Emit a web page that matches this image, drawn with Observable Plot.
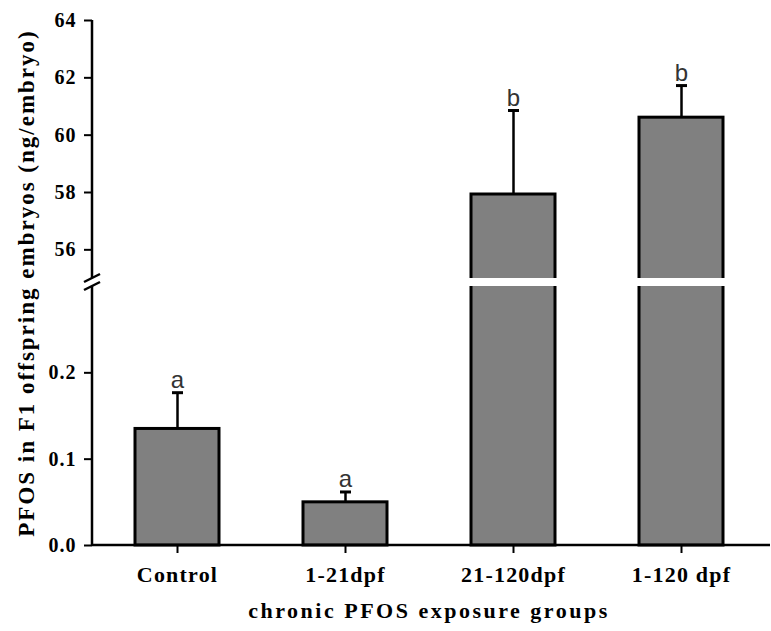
<!DOCTYPE html>
<html><head><meta charset="utf-8">
<script src="https://cdn.jsdelivr.net/npm/d3@7"></script>
<script src="https://cdn.jsdelivr.net/npm/@observablehq/plot@0.6"></script>
<style>
body{margin:0;background:#fff}
g[aria-label="y-axis tick label"] text{letter-spacing:1px}
g[aria-label="x-axis tick label"] text{letter-spacing:1.2px}
</style></head><body><div id="chart"></div>
<script>
const groups = ["Control", "1-21dpf", "21-120dpf", "1-120 dpf"];
const means = [0.135, 0.050, 57.93, 60.61];
const sds = [0.042, 0.012, 2.93, 1.12];
const letters = ["a", "a", "b", "b"];
const yTicks = [0, 0.1, 0.2, 56, 58, 60, 62, 64];
const lowerMax = 0.3, upperMin = 55, upperMax = 64;
const xTitle = "chronic PFOS exposure groups";
const yTitle = "PFOS in F1 offspring embryos (ng/embryo)";

const data = groups.map((g, i) => ({group: g, mean: means[i], sd: sds[i], letter: letters[i]}));

const W = 771, H = 631, mt = 20, mb = 86, ml = 92, mr = 6;
const bottom = H - mb;
const yRange = [bottom, bottom - 259, mt + 258, mt];

const axisLines = (index, scales, values, dims) => {
  const y = scales.y;
  const x0 = dims.marginLeft;
  const g = d3.create("svg:g").attr("stroke", "black").attr("stroke-width", 2.5).attr("fill", "none");
  g.append("line").attr("x1", x0).attr("x2", x0).attr("y1", y(upperMax)).attr("y2", y(upperMin));
  g.append("line").attr("x1", x0).attr("x2", x0).attr("y1", y(lowerMax)).attr("y2", y(0));
  for (const v of [upperMin, lowerMax]) {
    g.append("line").attr("x1", x0 - 8).attr("x2", x0 + 8).attr("y1", y(v) + 4).attr("y2", y(v) - 4);
  }
  g.append("line").attr("x1", x0).attr("x2", dims.width - 1).attr("y1", y(0)).attr("y2", y(0));
  return g.node();
};

const chart = Plot.plot({
  width: W, height: H,
  marginTop: mt, marginBottom: mb, marginLeft: ml, marginRight: mr,
  style: {fontFamily: "'Liberation Serif', 'Times New Roman', serif", fontWeight: "bold", color: "black", background: "white"},
  x: {type: "band", domain: groups, paddingInner: 0.5, paddingOuter: 0.25, label: null},
  y: {type: "linear", domain: [0, lowerMax, upperMin, upperMax], range: yRange, label: null},
  marks: [
    Plot.barY(data, {x: "group", y: "mean", fill: "#808080", stroke: "black", strokeWidth: 3}),
    Plot.rect([{}], {y1: () => lowerMax, y2: () => upperMin, fill: "white"}),
    Plot.ruleX(data, {x: "group", y1: "mean", y2: d => d.mean + d.sd, stroke: "black", strokeWidth: 2.5}),
    Plot.tickY(data, {x: "group", y: d => d.mean + d.sd, stroke: "black", strokeWidth: 3, insetLeft: 37, insetRight: 36}),
    Plot.text(data, {x: "group", y: d => d.mean + d.sd, text: "letter", dy: -5, lineAnchor: "bottom",
      fontSize: 24, fontFamily: "'Liberation Sans', Arial, sans-serif", fontWeight: "normal", fill: "#333"}),
    Plot.axisY({ticks: yTicks, tickFormat: d => d < 1 ? d.toFixed(1) : String(d), tickSize: 8, tickPadding: 8,
      fontSize: 20, strokeWidth: 2, label: null}),
    Plot.axisX({tickSize: 8, tickPadding: 13, fontSize: 22, strokeWidth: 2, label: null}),
    axisLines,
    Plot.text([xTitle], {frameAnchor: "bottom", dy: 72, lineAnchor: "bottom", textAnchor: "middle", text: d => d, fontSize: 22}),
    Plot.text([yTitle], {frameAnchor: "left", dx: -59, rotate: -90, lineAnchor: "bottom", textAnchor: "middle", text: d => d, fontSize: 23})
  ]
});
d3.select(chart).selectAll("text").filter(function() { return this.textContent === xTitle; }).style("letter-spacing", "2.5px");
d3.select(chart).selectAll("text").filter(function() { return this.textContent === yTitle; }).style("letter-spacing", "2px");
document.getElementById("chart").appendChild(chart);
</script></body></html>
